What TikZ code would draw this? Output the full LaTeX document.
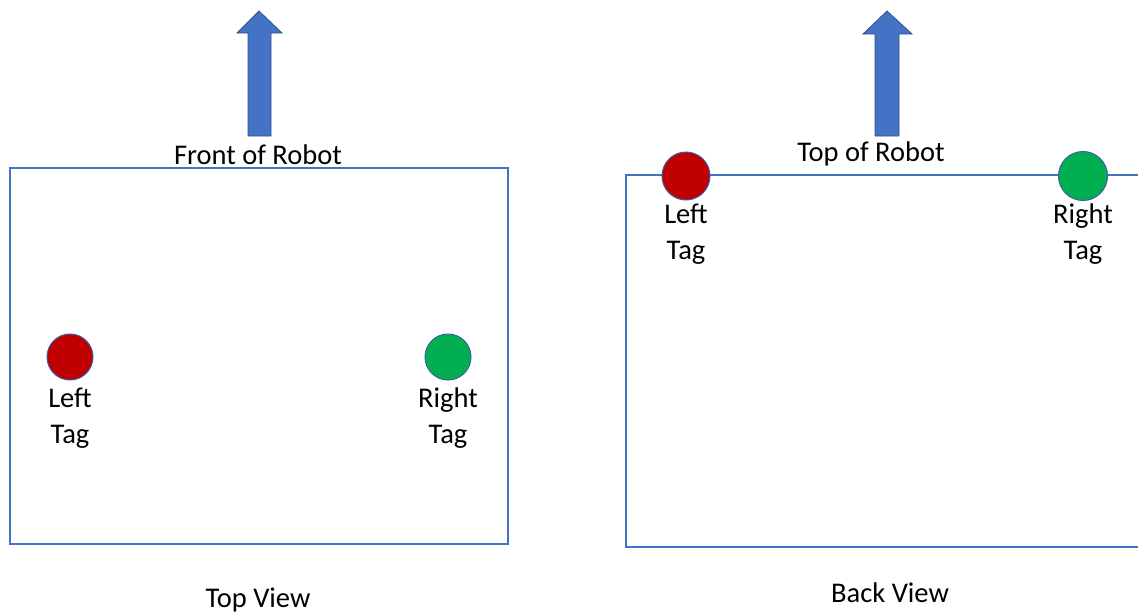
\documentclass[tikz,border=0pt]{standalone}
\usepackage{fontspec}
\setmainfont{Carlito}
\begin{document}
\begin{tikzpicture}[x=1pt,y=-1pt,
  lbl/.style={font=\fontsize{28.5}{35.5}\selectfont, align=center, inner sep=0pt, text=black},
  tag/.style={circle, minimum size=#1, inner sep=0pt, draw=tagline, line width=1pt},
  frame/.style={draw=framecol, line width=1.3pt},
  bigarrow/.style={fill=arrowfill, draw=arrowline, line width=0.8pt, line join=miter}]
\definecolor{framecol}{HTML}{4472C4}
\definecolor{arrowfill}{HTML}{4472C4}
\definecolor{arrowline}{HTML}{2F528F}
\definecolor{tagline}{HTML}{3A5DA8}
\definecolor{redtag}{HTML}{C00000}
\definecolor{greentag}{HTML}{00B050}
\useasboundingbox (0,0) rectangle (1138,613);
\clip (0,0) rectangle (1138,613);
% Top view
\draw[frame] (10,168) rectangle (508,544);
\draw[bigarrow] (248,136) -- (248,33) -- (237,33) -- (259,11) -- (282,33) -- (271,33) -- (271,136) -- cycle;
\node[lbl] (front) at (258,155) {Front of Robot};
\node[tag=46pt, fill=redtag] (lt1) at (70,357) {};
\node[tag=46pt, fill=greentag] (rt1) at (448,357) {};
\node[lbl, anchor=north] (ltl1) at (70,388) {Left\\Tag};
\node[lbl, anchor=north] (rtl1) at (448,388) {Right\\Tag};
\node[lbl] (topview) at (258,600) {Top View};
% Back view
\draw[frame] (626,175) rectangle (1145,547);
\draw[bigarrow] (875,136) -- (875,34) -- (863,34) -- (887,11) -- (912,34) -- (899,34) -- (899,136) -- cycle;
\node[lbl] (topof) at (871,154) {Top of Robot};
\node[tag=48pt, fill=redtag] (lt2) at (686,176) {};
\node[tag=49pt, fill=greentag] (rt2) at (1083,176) {};
\node[lbl, anchor=north] (ltl2) at (686,204) {Left\\Tag};
\node[lbl, anchor=north] (rtl2) at (1083,204) {Right\\Tag};
\node[lbl] (backview) at (890,593) {Back View};
\end{tikzpicture}
\end{document}
